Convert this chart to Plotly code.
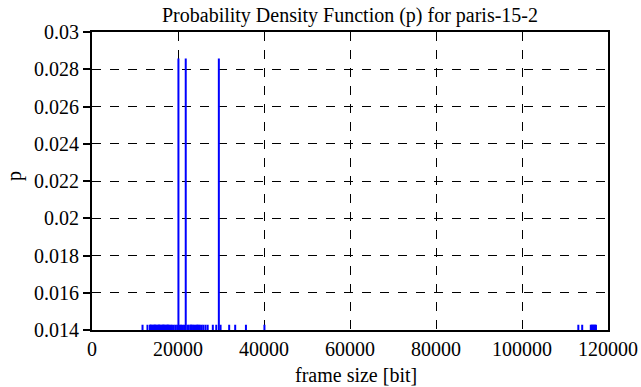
import plotly.graph_objects as go

# frame sizes [bit] observed once (p = 1/70) and twice (p = 2/70)
single_sizes = [11750, 12900,
                13500, 13750, 14000, 14250, 14500, 14750, 15000, 15250, 15500, 15750,
                16000, 16250, 16500, 16750, 17000, 17250, 17500, 17750, 18000, 18300,
                18600, 19000, 19400, 19800, 20400, 20700, 21000, 21400, 22200, 22500,
                22900, 23200, 23500, 23800, 24100, 24400, 24800, 25100, 25500, 25900,
                26400, 26900, 28100, 28900, 29900, 31900, 33300, 35800, 40100,
                113100, 114000, 116000, 116200, 116400, 116600, 116800, 117000, 117200,
                13600, 14600, 15600, 16600, 17600, 23000, 24600]
double_sizes = [20100, 21800, 29500]
p_single = 0.0142857
p_double = 0.0285714

y_ticks = [0.014, 0.016, 0.018, 0.02, 0.022, 0.024, 0.026, 0.028, 0.03]
y_tick_text = ["0.014", "0.016", "0.018", "0.02", "0.022", "0.024", "0.026", "0.028", "0.03"]
x_ticks = [0, 20000, 40000, 60000, 80000, 100000, 120000]
x_tick_text = ["0", "20000", "40000", "60000", "80000", "100000", "120000"]

xs, ys = [], []
for v in single_sizes:
    xs += [v, v, None]
    ys += [0, p_single, None]
for v in double_sizes:
    xs += [v, v, None]
    ys += [0, p_double, None]

fig = go.Figure()
fig.add_trace(go.Scatter(x=xs, y=ys, mode="lines",
                         line=dict(color="#0000ff", width=2),
                         showlegend=False, hoverinfo="skip"))

SERIF = "Liberation Serif"
font = dict(family=SERIF, size=20, color="black")

W, H = 641, 387
L, R, T, B = 92, 33, 32, 57
PW, PH = W - L - R, H - T - B

fig.update_layout(
    width=W, height=H,
    margin=dict(l=L, r=R, t=T, b=B, autoexpand=False),
    paper_bgcolor="white", plot_bgcolor="white",
    font=font,
    title=dict(text="Probability Density Function (p) for paris-15-2",
               x=350 / W, xanchor="center", y=1 - 15 / H, yanchor="middle",
               font=dict(family=SERIF, size=20, color="black")),
    xaxis=dict(range=[0, 120000], tickvals=x_ticks, ticktext=x_tick_text,
               showgrid=True, gridcolor="black", griddash="dash", gridwidth=1,
               showline=True, linecolor="black", linewidth=2, mirror=True,
               ticks="", zeroline=False, automargin=False, tickfont=font),
    yaxis=dict(range=[0.014, 0.03], tickvals=y_ticks, ticktext=y_tick_text,
               showgrid=True, gridcolor="black", griddash="dash", gridwidth=1,
               showline=True, linecolor="black", linewidth=2, mirror=True,
               ticks="outside", ticklen=7, tickcolor="black", tickwidth=2,
               zeroline=False, automargin=False, tickfont=font),
    annotations=[
        dict(text="frame size [bit]", xref="paper", yref="paper",
             x=(356 - L) / PW, y=(H - B - 375) / PH, xanchor="center", yanchor="middle",
             showarrow=False, font=font),
        dict(text="p", xref="paper", yref="paper", textangle=-90,
             x=(14 - L) / PW, y=(H - B - 176) / PH, xanchor="center", yanchor="middle",
             showarrow=False, font=font),
    ],
)

fig.write_html("out.html", config={"displayModeBar": False},
               post_script="document.body.style.margin='0';")
